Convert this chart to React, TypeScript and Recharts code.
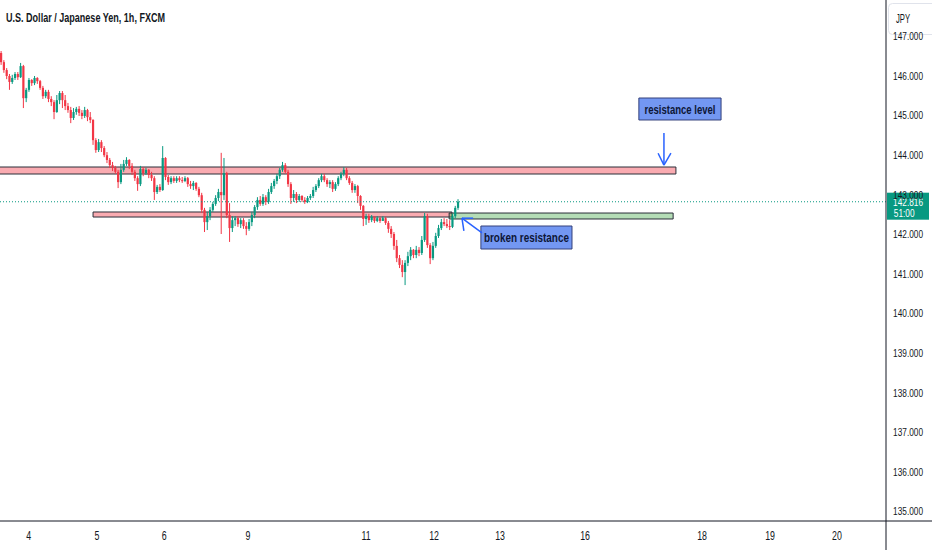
import React from 'react';
import { ComposedChart, Bar, XAxis, YAxis, ReferenceArea, ReferenceLine } from 'recharts';

// ---- data (hourly candles, index = bar number) ----
const FIRST_OPEN = 146.57;
const CLOSES = [
  146.34, 146.14, 145.99, 145.84, 145.94, 146.04, 145.96, 146.24, 145.43, 145.64,
  145.89, 145.81, 145.94, 145.86, 145.69, 145.48, 145.59, 145.41, 145.33, 145.08,
  145.38, 145.56, 145.38, 145.23, 145.13, 144.93, 145.08, 145.16, 145.06, 144.98,
  145.13, 144.95, 144.88, 144.37, 144.12, 144.32, 144.17, 143.99, 143.87, 143.74,
  143.67, 143.57, 143.31, 143.62, 143.77, 143.87, 143.72, 143.57, 143.41, 143.26,
  143.64, 143.54, 143.62, 143.49, 143.41, 143.06, 143.19, 143.11, 143.92, 143.44,
  143.31, 143.41, 143.34, 143.41, 143.36, 143.34, 143.41, 143.26, 143.21, 143.29,
  143.14, 142.98, 142.61, 142.30, 142.45, 142.61, 142.76, 142.91, 143.06, 142.98,
  143.54, 142.48, 142.15, 142.35, 142.40, 142.25, 142.35, 142.20, 142.13, 142.30,
  142.48, 142.68, 142.86, 142.76, 142.93, 142.81, 143.06, 143.21, 143.34, 143.46,
  143.62, 143.74, 143.57, 143.26, 142.91, 143.01, 142.86, 142.96, 142.86, 142.81,
  142.91, 142.96, 143.11, 143.21, 143.36, 143.46, 143.36, 143.26, 143.31, 143.14,
  143.26, 143.41, 143.52, 143.62, 143.41, 143.29, 143.11, 143.21, 142.96, 142.71,
  142.38, 142.45, 142.35, 142.43, 142.33, 142.40, 142.33, 142.40, 142.28, 142.13,
  142.00, 141.70, 141.39, 141.22, 141.04, 141.27, 141.44, 141.60, 141.47, 141.60,
  141.52, 141.85, 142.45, 141.72, 141.39, 141.70, 141.95, 142.15, 142.30, 142.25,
  142.20, 142.18, 142.45, 142.66, 142.816,
];
const HIGHS = [
  146.62, 146.39, 146.19, 146.04, 146.02, 146.09, 146.09, 146.32, 146.27, 145.69,
  145.94, 145.91, 145.99, 145.96, 145.89, 145.74, 145.64, 145.64, 145.48, 145.38,
  145.51, 145.61, 145.61, 145.51, 145.31, 145.21, 145.18, 145.21, 145.23, 145.13,
  145.21, 145.16, 145.08, 144.90, 144.42, 144.40, 144.37, 144.22, 144.07, 143.92,
  143.82, 143.72, 143.62, 143.77, 143.87, 143.94, 143.89, 143.79, 143.62, 143.46,
  143.72, 143.69, 143.67, 143.64, 143.57, 143.46, 143.24, 143.26, 144.22, 143.94,
  143.49, 143.46, 143.46, 143.46, 143.46, 143.44, 143.46, 143.44, 143.34, 143.34,
  143.31, 143.19, 143.04, 142.66, 142.56, 142.68, 142.81, 142.98, 143.14, 144.05,
  143.92, 143.57, 142.78, 142.45, 142.45, 142.45, 142.40, 142.40, 142.30, 142.38,
  142.56, 142.73, 142.93, 142.96, 143.01, 142.98, 143.14, 143.29, 143.39, 143.52,
  143.67, 143.82, 143.79, 143.62, 143.31, 143.11, 143.06, 143.01, 142.98, 142.93,
  142.96, 143.01, 143.19, 143.26, 143.41, 143.52, 143.52, 143.41, 143.36, 143.36,
  143.31, 143.46, 143.57, 143.69, 143.67, 143.46, 143.34, 143.26, 143.24, 142.98,
  142.73, 142.51, 142.51, 142.48, 142.45, 142.45, 142.43, 142.45, 142.43, 142.33,
  142.20, 142.05, 141.85, 141.47, 141.34, 141.34, 141.55, 141.67, 141.62, 141.70,
  141.67, 141.95, 142.53, 142.51, 141.77, 141.80, 142.03, 142.23, 142.38, 142.40,
  142.38, 142.35, 142.51, 142.71, 142.88,
];
const LOWS = [
  146.27, 146.07, 145.91, 145.64, 145.79, 145.89, 145.89, 145.94, 145.18, 145.33,
  145.59, 145.74, 145.76, 145.79, 145.64, 145.41, 145.43, 145.33, 145.23, 144.90,
  145.06, 145.28, 145.18, 145.13, 145.06, 144.80, 144.88, 145.01, 144.98, 144.90,
  144.93, 144.85, 144.80, 144.25, 144.05, 144.07, 144.07, 143.94, 143.79, 143.67,
  143.59, 143.52, 143.16, 143.26, 143.57, 143.72, 143.64, 143.49, 143.34, 143.09,
  143.21, 143.46, 143.49, 143.41, 143.34, 142.86, 143.01, 143.06, 143.09, 143.36,
  143.24, 143.26, 143.29, 143.29, 143.31, 143.29, 143.31, 143.19, 143.14, 143.11,
  143.09, 142.93, 142.53, 142.05, 142.10, 142.35, 142.56, 142.71, 142.83, 142.00,
  142.86, 142.40, 141.80, 142.05, 142.20, 142.18, 142.15, 142.13, 141.97, 142.08,
  142.20, 142.40, 142.61, 142.71, 142.71, 142.73, 142.76, 143.01, 143.14, 143.26,
  143.39, 143.57, 143.52, 143.19, 142.76, 142.81, 142.78, 142.81, 142.81, 142.76,
  142.78, 142.86, 142.91, 143.06, 143.16, 143.31, 143.31, 143.19, 143.16, 143.06,
  143.09, 143.21, 143.36, 143.46, 143.36, 143.24, 143.04, 143.04, 142.78, 142.61,
  142.20, 142.23, 142.28, 142.30, 142.28, 142.30, 142.28, 142.33, 142.23, 142.03,
  141.90, 141.60, 141.29, 141.14, 140.91, 140.71, 141.19, 141.34, 141.39, 141.39,
  141.44, 141.47, 141.80, 141.65, 141.24, 141.34, 141.65, 141.90, 142.10, 142.20,
  142.15, 142.10, 142.15, 142.40, 142.61,
];

// day labels on the time axis (bar index where each day starts)
const DAY_TICKS = [10.3, 34.8, 58.9, 89.0, 131.4, 155.8, 179.5, 210.0, 252.0, 276.4, 300.4];
const DAY_LABELS = ['4', '5', '6', '9', '11', '12', '13', '16', '18', '19', '20'];
const PRICE_TICKS = [135, 136, 137, 138, 139, 140, 141, 142, 143, 144, 145, 146, 147];

const LAST_PRICE = 142.816;
const COUNTDOWN = '51:00';
const CURRENCY = 'JPY';
const TITLE = 'U.S. Dollar / Japanese Yen, 1h, FXCM';

// drawn zones (bar index / price)
const ZONES = [
  { x1: -3, x2: 242.6, y1: 143.515, y2: 143.692, kind: 'red' },
  { x1: 33.4, x2: 162.2, y1: 142.429, y2: 142.556, kind: 'red' },
  { x1: 161.2, x2: 241.6, y1: 142.379, y2: 142.53, kind: 'green' },
];
const NOTES = [
  { text: 'resistance level', x1: 229.3, x2: 258.8, y1: 144.879, y2: 145.434, tw: 71 },
  { text: 'broken resistance', x1: 172.6, x2: 205.3, y1: 141.621, y2: 142.202, tw: 85 },
];
const ARROWS = [
  { tail: { x: 238.3, y: 144.55 }, tip: { x: 238.3, y: 143.74 }, a1: { x: 236.2, y: 144.04 }, a2: { x: 240.8, y: 144.04 } },
  { tail: { x: 173.0, y: 142.03 }, tip: { x: 165.8, y: 142.40 }, a1: { x: 169.8, y: 142.40 }, a2: { x: 166.5, y: 142.08 } },
];

// ---- layout ----
const W = 932;
const H = 550;
const AXIS_W = 46;
const AXIS_H = 29;
const X_DOMAIN: [number, number] = [0, 318];
const Y_DOMAIN: [number, number] = [134.753, 147.909];

const RED = '#f23645';
const GREEN = '#089981';
const INK = '#131722';
const FONT = '"Liberation Sans", Arial, sans-serif';
const SQUEEZE = 0.72;

const data = CLOSES.map((c, i) => ({
  t: i + 0.5,
  open: i === 0 ? FIRST_OPEN : CLOSES[i - 1],
  high: HIGHS[i],
  low: LOWS[i],
  close: c,
}));

const xPerPx = (X_DOMAIN[1] - X_DOMAIN[0]) / (W - AXIS_W);
const yPerPx = (Y_DOMAIN[1] - Y_DOMAIN[0]) / (H - AXIS_H);
const X_EDGE = X_DOMAIN[1] + AXIS_W * xPerPx;
const Y_EDGE = Y_DOMAIN[0] - AXIS_H * yPerPx;

// narrow text: drawn with a horizontal squeeze like the reference's condensed font
const NarrowText = ({ x, y, size, fill, anchor, sx, children }: any) => (
  <text
    transform={`translate(${x},${y}) scale(${sx ?? SQUEEZE},1)`}
    x={0}
    y={0}
    fontSize={size}
    fill={fill}
    fontFamily={FONT}
    textAnchor={anchor || 'start'}
  >
    {children}
  </text>
);

const Candle = (props: any) => {
  const { x, y, width, height } = props;
  const p = props.payload || props;
  const top = Math.min(y, y + height);
  const h = Math.abs(height);
  const k = p.high === p.low ? 0 : h / (p.high - p.low);
  const py = (v: number) => top + (p.high - v) * k;
  const up = p.close >= p.open;
  const color = up ? GREEN : RED;
  const cx = x + width / 2;
  const bTop = py(Math.max(p.open, p.close));
  const bBot = py(Math.min(p.open, p.close));
  return (
    <g>
      <line x1={cx} x2={cx} y1={top} y2={top + h} stroke={color} strokeWidth={1} />
      <rect x={x} y={bTop} width={width} height={Math.max(1, bBot - bTop)} fill={color} />
    </g>
  );
};

const YTick = (props: any) => {
  const { x, y, payload } = props;
  return (
    <NarrowText x={x + 30} y={y + 4.2} size={11.5} fill={INK} anchor="end">
      {Number(payload.value).toFixed(3)}
    </NarrowText>
  );
};

const XTick = (props: any) => {
  const { x, y, payload } = props;
  const idx = DAY_TICKS.indexOf(payload.value);
  const label = idx >= 0 ? DAY_LABELS[idx] : '';
  return (
    <NarrowText x={x} y={y + 19} size={13} fill={INK} anchor="middle" sx={0.68}>
      {label}
    </NarrowText>
  );
};

// drawn on top of the price-axis ticks: currency box and last-price tag
const AxisOverlay = (props: any) => {
  const vb = props.viewBox || { x: W - AXIS_W, y: 0, width: AXIS_W, height: H - AXIS_H };
  const x0 = vb.x + 2.5;
  const yP = vb.y + ((Y_DOMAIN[1] - LAST_PRICE) / (Y_DOMAIN[1] - Y_DOMAIN[0])) * vb.height;
  const tx = vb.x + 1;
  return (
    <g>
      <rect x={x0} y={3.5} width={AXIS_W + 4} height={31} rx={4} fill="#ffffff" stroke="#e0e3eb" />
      <NarrowText x={x0 + 7.5} y={23} size={12} fill={INK} sx={0.64}>{CURRENCY}</NarrowText>
      <rect x={tx} y={yP - 9} width={42} height={27} fill={GREEN} />
      <NarrowText x={tx + 36} y={yP + 4.3} size={11.5} fill="#ffffff" anchor="end">
        {LAST_PRICE.toFixed(3)}
      </NarrowText>
      <NarrowText x={tx + 27.5} y={yP + 15.5} size={11.5} fill="#ffffff" anchor="end">
        {COUNTDOWN}
      </NarrowText>
    </g>
  );
};

const NoteLabel = (props: any) => {
  const { viewBox, text, tw } = props;
  if (!viewBox) return null;
  const { x, y, width, height } = viewBox;
  return (
    <text x={x + width / 2} y={y + height / 2 + 4.8} fontSize={13.5} fontWeight="bold" fill="#0d1636"
      fontFamily={FONT} textAnchor="middle" textLength={tw} lengthAdjust="spacingAndGlyphs">
      {text}
    </text>
  );
};

export default function App() {
  return (
    <div style={{ position: 'absolute', left: 0, top: 0, width: W, height: H, background: '#ffffff' }}>
      <ComposedChart width={W} height={H} data={data} margin={{ top: 0, right: 0, bottom: 0, left: 0 }}>
        <XAxis
          type="number"
          dataKey="t"
          domain={X_DOMAIN}
          allowDataOverflow
          ticks={DAY_TICKS}
          interval={0}
          height={AXIS_H}
          axisLine={false}
          tickLine={false}
          tickSize={0}
          tickMargin={0}
          tick={(p: any) => <XTick {...p} />}
        />
        <YAxis
          orientation="right"
          domain={Y_DOMAIN}
          allowDataOverflow
          ticks={PRICE_TICKS}
          interval={0}
          width={AXIS_W}
          axisLine={false}
          tickLine={false}
          tickSize={0}
          tickMargin={7}
          tick={(p: any) => <YTick {...p} />}
          label={<AxisOverlay />}
        />
        <Bar
          dataKey={(d: any) => [d.low, d.high]}
          barSize={2.2}
          isAnimationActive={false}
          shape={(p: any) => <Candle {...p} />}
        />
        {ZONES.map((z, i) => (
          <ReferenceArea
            key={'z' + i}
            x1={z.x1}
            x2={z.x2}
            y1={z.y1}
            y2={z.y2}
            fill={z.kind === 'red' ? RED : '#4caf50'}
            fillOpacity={0.42}
            stroke="#2a2e39"
            strokeWidth={1}
            strokeOpacity={1}
            ifOverflow="hidden"
          />
        ))}
        <ReferenceLine
          y={LAST_PRICE}
          stroke={GREEN}
          strokeWidth={1.1}
          strokeDasharray="1 2"
        />
        {NOTES.map((n, i) => (
          <ReferenceArea
            key={'n' + i}
            x1={n.x1}
            x2={n.x2}
            y1={n.y1}
            y2={n.y2}
            fill="#7397f2"
            fillOpacity={1}
            stroke="#34407a"
            strokeWidth={1}
            strokeOpacity={1}
            ifOverflow="visible"
            label={<NoteLabel text={n.text} tw={n.tw} />}
          />
        ))}
        {ARROWS.flatMap((a, i) => [
          <ReferenceLine key={'as' + i} segment={[a.tail, a.tip]} stroke="#2962ff" strokeWidth={1.5} ifOverflow="visible" />,
          <ReferenceLine key={'a1' + i} segment={[a.a1, a.tip]} stroke="#2962ff" strokeWidth={1.5} ifOverflow="visible" />,
          <ReferenceLine key={'a2' + i} segment={[a.a2, a.tip]} stroke="#2962ff" strokeWidth={1.5} ifOverflow="visible" />,
        ])}
        <ReferenceLine
          segment={[{ x: X_DOMAIN[0], y: Y_DOMAIN[0] }, { x: X_EDGE, y: Y_DOMAIN[0] }]}
          stroke={INK}
          strokeWidth={1}
          ifOverflow="visible"
        />
        <ReferenceLine
          segment={[{ x: X_DOMAIN[1], y: Y_DOMAIN[1] }, { x: X_DOMAIN[1], y: Y_EDGE }]}
          stroke={INK}
          strokeWidth={1}
          ifOverflow="visible"
        />
      </ComposedChart>
      <svg width={300} height={30} style={{ position: 'absolute', left: 0, top: 0, pointerEvents: 'none' }}>
        <text x={6} y={21.5} fontSize={12.5} fill={INK} fontFamily={FONT} fontWeight="bold"
          textLength={159} lengthAdjust="spacingAndGlyphs">{TITLE}</text>
      </svg>
    </div>
  );
}
